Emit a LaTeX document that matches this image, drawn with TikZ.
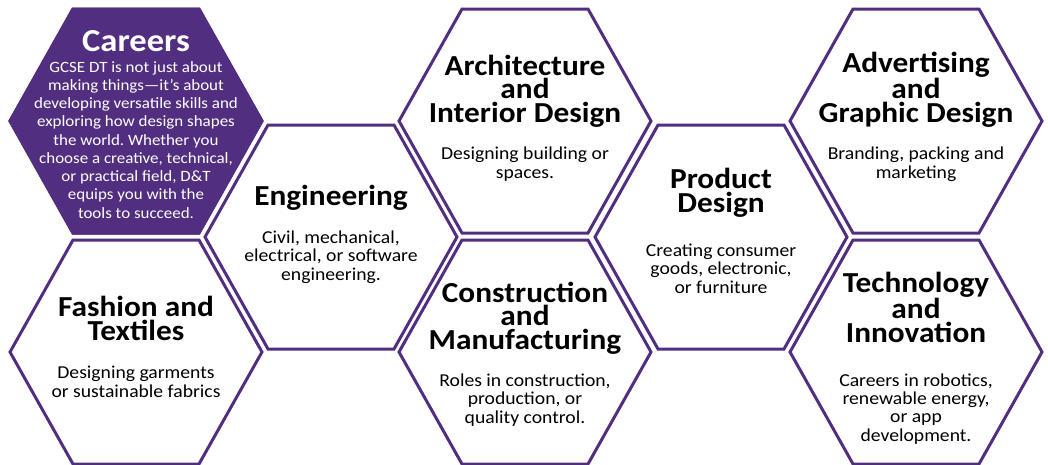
\documentclass[tikz,border=0pt]{standalone}
\usepackage{fontspec}
\setmainfont{Carlito}[FakeStretch=1.08]
\frenchspacing
\definecolor{dtpurple}{RGB}{82,46,128}
\tikzset{every node/.style={inner sep=0pt, align=center, anchor=base}}
\tikzset{hexline/.style={draw=dtpurple, line width=3pt, line join=miter}}
\tikzset{hexfill/.style={fill=dtpurple, draw=dtpurple, line width=3pt}}
\tikzset{headtext/.style={font=\bfseries\fontsize{29}{23.5}\selectfont}}
\tikzset{bodytext/.style={font=\fontsize{18.2}{18.3}\selectfont}}

\begin{document}
\begin{tikzpicture}[x=1pt, y=-1pt]
  \useasboundingbox (0,0) rectangle (1048,464);
  \coordinate (careers) at (136,121);
  \coordinate (fashion) at (136,352);
  \coordinate (eng) at (331,237);
  \coordinate (arch) at (525,121);
  \coordinate (constr) at (525,352);
  \coordinate (product) at (721,237);
  \coordinate (advert) at (916,121);
  \coordinate (tech) at (916,352);

  \foreach \c in {careers,fashion,eng,arch,constr,product,advert,tech}
    \draw[hexline] (\c) ++(-126,0) -- ++(63,-112) -- ++(126,0) -- ++(63,112)
      -- ++(-63,112) -- ++(-126,0) -- cycle;
  \filldraw[hexfill] (careers) ++(-126,0) -- ++(63,-112) -- ++(126,0) -- ++(63,112)
      -- ++(-63,112) -- ++(-126,0) -- cycle;

  % base = baseline of the last line
  \node (careersT) [white, font=\bfseries\fontsize{32}{32}\selectfont] at (136,51) {Careers};
  \node (careersB) [white, font=\fontsize{15.7}{18.25}\selectfont] at (136,218)
    {GCSE DT is not just about\\making things---it's about\\developing versatile skills and\\exploring how design shapes\\the world. Whether you\\choose a creative, technical,\\or practical field, D\&T\\equips you with the\\tools to succeed.};

  \node (engT) [headtext] at (331,205) {Engineering};
  \node (engB) [bodytext] at (331,280) {Civil, mechanical,\\electrical, or software\\engineering.};

  \node (archT) [headtext] at (525,122) {Architecture\\and\\Interior Design};
  \node (archB) [bodytext] at (525,178) {Designing building or\\spaces.};

  \node (fashionT) [headtext] at (136,340) {Fashion and\\Textiles};
  \node (fashionB) [bodytext] at (136,397) {Designing garments\\or sustainable fabrics};

  \node (constrT) [headtext] at (525,349) {Construction\\and\\Manufacturing};
  \node (constrB) [bodytext] at (525,423) {Roles in construction,\\production, or\\quality control.};

  \node (productT) [headtext] at (721,212) {Product\\Design};
  \node (productB) [bodytext] at (721,293) {Creating consumer\\goods, electronic,\\or furniture};

  \node (advertT) [headtext] at (916,122) {Advertising\\and\\Graphic Design};
  \node (advertB) [bodytext] at (916,178) {Branding, packing and\\marketing};

  \node (techT) [headtext] at (916,342) {Technology\\and\\Innovation};
  \node (techB) [bodytext] at (916,441) {Careers in robotics,\\renewable energy,\\or app\\development.};
\end{tikzpicture}
\end{document}
